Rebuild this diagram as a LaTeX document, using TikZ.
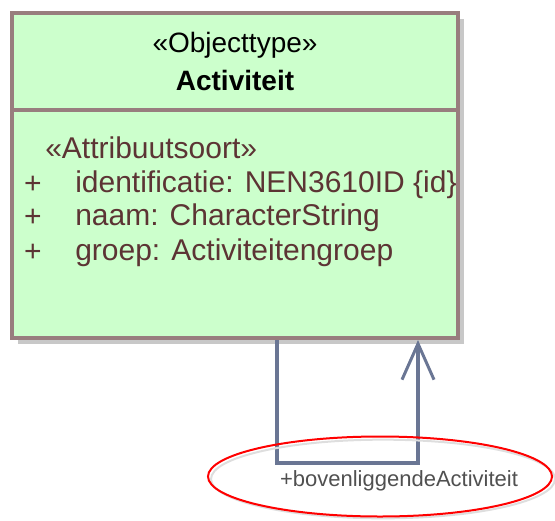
\documentclass[tikz,border=0pt]{standalone}
\usepackage{fontspec}
\setmainfont{Liberation Sans}
\usetikzlibrary{shapes.geometric,arrows.meta}
\definecolor{classfill}{RGB}{204,255,204}
\definecolor{classline}{RGB}{152,126,126}
\definecolor{attrtext}{RGB}{92,52,52}
\definecolor{assocline}{RGB}{106,118,148}
\definecolor{shadowgray}{RGB}{200,200,200}
\definecolor{roletext}{RGB}{80,80,80}
\begin{document}
\begin{tikzpicture}[x=0.75pt,y=-0.75pt,
    classbox/.style={rectangle, draw=classline, fill=classfill, line width=3pt, minimum width=334.5pt, minimum height=243.75pt, inner sep=0pt},
    head/.style={font=\fontsize{21}{25}\selectfont, inner sep=0pt},
    attr/.style={anchor=west, text=attrtext, font=\fontsize{22.5}{27}\selectfont, inner sep=0pt},
    assoc/.style={draw=assocline, line width=3pt}]
    \useasboundingbox (0,0) rectangle (555,520);
    % Class
    \node (shade) at (241,181.5) [classbox, draw=none, fill=shadowgray] {};
    \node (act) at (235,175.5) [classbox] {};
    \coordinate (split) at (0,110);
    \draw [classline, line width=3pt] (act.west |- split) -- (act.east |- split);
    \node (stereo) at (235,45) [head] {«Objecttype»};
    \node (name) at (235,80) [head, font=\fontsize{21}{25}\selectfont\bfseries] {Activiteit};

    % Attributes
    \node (attrstereo) at (45,148) [attr] {«Attribuutsoort»};
    \node (p1) at (33,185) [attr, anchor=center] {+};
    \node (a1) at (75,185) [attr] {identificatie: NEN3610ID \{id\}};
    \node (p2) at (33,218) [attr, anchor=center] {+};
    \node (a2) at (75,218) [attr] {naam: CharacterString};
    \node (p3) at (33,253) [attr, anchor=center] {+};
    \node (a3) at (75,253) [attr] {groep: Activiteitengroep};

    % Self association
    \coordinate (loopa) at (277,463);
    \coordinate (loopb) at (418,463);
    \draw [assoc, -{Straight Barb[length=27pt, width=24pt, line width=2.25pt]}] (act.south -| loopa) -- (loopa) -- (loopb) -- (act.south -| loopb);

    % Role name
    \node (markshade) at (383,479) [ellipse, draw=shadowgray!60, line width=1.5pt, minimum width=258pt, minimum height=59pt] {};
    \node (mark) at (380,476.5) [ellipse, draw=red, line width=1.5pt, minimum width=258pt, minimum height=60pt] {};
    \node (role) at (399,481) [text=roletext, font=\fontsize{16.5}{19}\selectfont, inner sep=0pt] {+bovenliggendeActiviteit};
\end{tikzpicture}
\end{document}
